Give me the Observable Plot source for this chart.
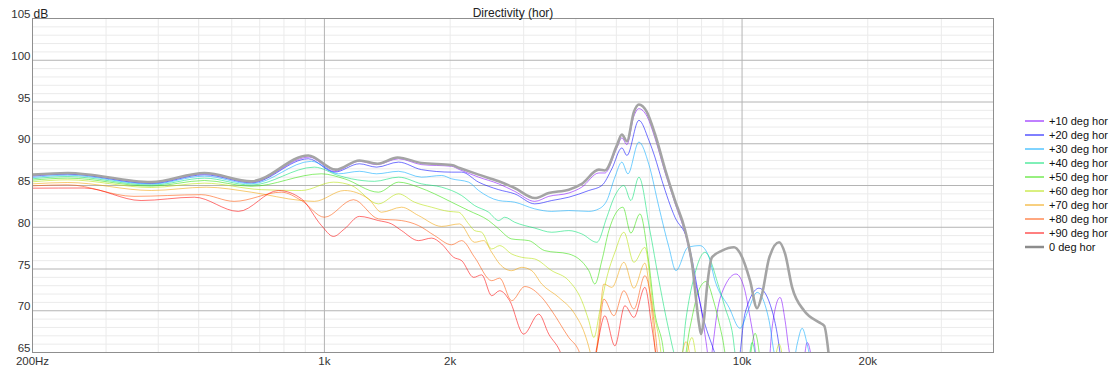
<!DOCTYPE html>
<html><head><meta charset="utf-8">
<script src="https://cdn.jsdelivr.net/npm/d3@7"></script>
<script src="https://cdn.jsdelivr.net/npm/@observablehq/plot@0.6"></script>
<style>
body{margin:0;background:#fff;}
#wrap{position:relative;width:1116px;height:369px;font-family:"Liberation Sans",Arial,sans-serif;}
#wrap svg{display:block;}
#legend{position:absolute;left:0;top:0;}
</style></head><body><div id="wrap"></div>
<script>
// ---- data ----
const seriesNames = ["+10 deg hor","+20 deg hor","+30 deg hor","+40 deg hor","+50 deg hor","+60 deg hor","+70 deg hor","+80 deg hor","+90 deg hor","0 deg hor"];
const seriesColors = ["#8000ff","#0000ff","#00a8ff","#00e070","#30e000","#b4e000","#f0a000","#ff5000","#ff0000","#8c8c8c"];

const f10 = [200,243,385,516,668,920,1057,1213,1333,1505,1708,2016,2107,2340,2614,2855,3189,3445,3847,4133,4540,4693,5015,5155,5300,5508,5662,5918,6185,6537,6908,7381,7714,8018,8197,8380,8520,8710,9104,9674,10110,10451,10684,10923,11544,11802,12335,12680,12963,13326,13928,14318,14800];
const db10 = [86.25,86.43,85.32,86.4,85.42,88.4,86.7,87.9,87.5,88.2,87.5,87.3,86.9,86.0,85.2,84.3,83.1,83.7,84.1,84.8,86.5,86.5,89.5,90.7,89.9,93.3,94.2,93.3,90.7,86.6,82.9,78.4,73.6,69.7,66.3,63.5,66.0,69.7,73.0,74.4,72.8,69.2,66.4,63,63,68,71.6,68.8,65.2,63,63,66.2,63];

const f20 = [200,243,385,516,668,915,1057,1213,1333,1505,1708,2016,2131,2340,2614,2855,3189,3502,3847,4296,4616,4878,5155,5300,5662,5984,6185,6429,6908,7381,8107,8567,8856,9727,10166,10984,11802,12132,12472];
const db20 = [86.12,86.35,85.24,86.28,85.32,88.2,86.6,87.6,87.2,87.8,86.9,86.6,86.6,85.4,84.5,84.0,82.8,83.2,83.6,84.4,85.0,87.0,89.5,88.6,92.8,90.4,88.4,85.6,81.2,78.7,68.8,65.2,63,63,69.7,72.7,70.0,67.3,63];

const f30 = [200,243,385,516,668,931,1080,1213,1333,1505,1708,1908,2016,2215,2340,2614,2855,3189,3502,3847,4296,4540,4745,4960,5155,5329,5662,5984,6324,6682,6946,7421,7930,8334,8615,9307,9890,10336,10863,11608,11933,12335,13180,13549,13928,14318,14718];
const db30 = [85.96,86.23,85.16,86.12,85.2,87.9,86.4,86.7,86.4,86.7,86.0,86.2,85.8,85.4,84.4,83.2,83.0,82.2,81.9,82.0,81.9,82.2,83.2,86.0,87.8,86.4,90.2,87.5,82.4,77.6,74.8,77.6,77.8,76.4,73.6,70.4,67.9,70.0,72.2,68.8,65.0,63,63,66,67.9,66,63];

const f40 = [200,243,385,516,668,946,1080,1161,1318,1505,1708,1908,2131,2289,2473,2614,2702,2855,3189,3502,3847,4133,4490,4745,4932,5212,5418,5662,6017,6324,6682,6908,7101,7340,7671,8152,8807,9104,9462,9781,10279,10567,10863];
const db40 = [85.8,86.07,85.04,85.88,85.05,87.2,86.2,85.8,85.5,86.0,85.2,84.8,83.8,82.6,81.8,80.8,81.2,80.6,79.9,79.4,79.6,79.2,78.2,81.2,83.5,85.0,83.2,86.0,79.6,73.6,67.6,64.5,63,69,74,77.0,72.8,70.4,67.6,63,63,66.2,63];

const f50 = [200,243,385,516,668,984,1117,1347,1505,1680,1836,2016,2215,2473,2614,2808,3085,3370,3847,4296,4441,4616,4798,5184,5418,5694,5984,6185,6429,6609,7180,7504,7886,8197,8567,8954,9307,10279,10744,11106];
const db50 = [85.64,85.88,84.92,85.6,84.9,86.4,85.8,84.2,85.4,84.8,84.0,83.0,82.0,80.8,79.8,78.6,78.4,77.2,76.8,74.8,73.2,76.0,79.6,82.4,79.3,81.6,75.7,69.7,66.4,63,63,68,72.5,73.5,71,67,63,63,67.3,63];

const f60 = [200,243,385,516,706,881,1051,1161,1347,1505,1644,1806,1983,2096,2215,2289,2380,2515,2628,2808,2968,3189,3502,3847,4133,4296,4417,4565,4745,4960,5212,5508,5853,6151,6324,6500,7180,7587,7886,11802,12267,12610];
const db60 = [85.44,85.68,84.76,85.28,84.5,84.4,85.4,85.0,82.8,84.0,83.0,82.4,81.9,81.8,80.4,79.6,79.4,77.4,77.8,76.8,76.4,76.2,74.8,73.6,71.2,68.8,66.8,70,74,77,79.4,75.8,77.6,69.7,66.8,63,63,66.8,63,63,66,63];

const f70 = [200,243,385,521,668,881,946,1117,1275,1370,1530,1680,1908,2107,2289,2406,2515,2628,2808,2968,3136,3314,3640,3977,4203,4320,4417,4540,4667,4878,5212,5508,5853,6084,6289,7023,7340,7587];
const db70 = [85.2,85.36,84.4,84.8,84.2,83.2,83.1,84.4,83.4,81.8,82.4,81.4,80.1,80.4,78.2,78.4,77.0,75.6,74.8,75.2,74.8,73.2,71.6,69.6,67.2,65.2,63,68,73.2,72.8,75.8,72.7,75.7,69.7,63,63,66.3,63];

const f80 = [200,243,350,507,608,789,881,1000,1174,1347,1530,1680,1836,2016,2131,2289,2515,2628,2808,3017,3314,3502,3847,4066,4203,4368,4515,4667,4932,5212,5508,5853,6151,6324];
const db80 = [84.96,85.08,83.7,83.9,83.1,84.2,83.2,81.2,83.3,81.0,80.8,80.2,79.0,77.9,78.4,76.4,73.6,73.9,71.2,72.9,71.6,70.0,66.8,65.2,63,63,66,71.4,69.4,72.4,70.2,74.2,68.8,63];

const f90 = [200,266,364,488,622,776,881,984,1051,1117,1213,1347,1448,1530,1680,1806,1908,2039,2131,2277,2380,2515,2628,2777,3001,3260,3445,3661,3805,4368,4490,4693,4960,5241,5508,5853,6084,6289];
const db90 = [84.68,84.7,83.2,83.6,81.9,84.4,83.4,80.2,78.9,79.8,81.3,80.8,80.4,79.6,78.4,78.7,78.0,76.4,76.0,74.0,74.3,71.8,72.4,71.2,67.2,69.6,67.2,65.2,63,63,65.6,69.4,65.8,70.6,69.2,72.8,68,63];

const f0 = [200,243,385,516,668,915,1063,1213,1340,1497,1708,2016,2107,2340,2614,2855,3189,3445,3847,4133,4540,4693,5015,5155,5300,5508,5662,5918,6185,6537,6908,7300,7587,7886,7974,8107,8242,8473,8954,9568,9890,10451,10863,11167,11608,12267,12680,13180,14083,15299,15728,16258];
const db0 = [86.3,86.5,85.4,86.5,85.5,88.6,86.9,88.0,87.6,88.35,87.7,87.45,87.1,86.3,85.5,84.7,83.5,84.1,84.5,85.2,86.9,86.8,89.8,91.1,90.3,93.8,94.7,93.8,91.2,87.0,83.2,79.7,75.7,68.5,67.2,69.0,72.8,76.4,77.2,77.6,76.9,73.6,70.3,72.0,76.3,78.2,76.8,72.8,70.0,68.6,68.2,63];

const xTicks = [200,500,1000,2000,5000,10000,20000];
const xTickLabels = ["200Hz","500","1k","2k","5k","10k","20k"];
const xMajor = [1000,10000];
const xMinor = [300,400,500,600,700,800,900,2000,3000,4000,5000,6000,7000,8000,9000,20000,30000,40000];
const yTicks = [65,70,75,80,85,90,95,100,105];
const yMajor = [70,75,80,85,90,95,100];
const yMinor = d3.range(66,105).filter(v => v % 5 !== 0);

// ---- build table ----
const freqs = [f10,f20,f30,f40,f50,f60,f70,f80,f90,f0];
const dbs = [db10,db20,db30,db40,db50,db60,db70,db80,db90,db0];
const rows = [];
freqs.forEach((fs, s) => fs.forEach((f, i) => rows.push({s, name: seriesNames[s], color: seriesColors[s], f, db: dbs[s][i]})));
const colored = rows.filter(r => r.s < 9);
const onAxis = rows.filter(r => r.s === 9);
const labelFor = new Map(xTicks.map((t, i) => [t, xTickLabels[i]]));

const font = '"Liberation Sans", Arial, sans-serif';
const chart = Plot.plot({
  width: 1116, height: 369,
  marginLeft: 32, marginRight: 123, marginTop: 18, marginBottom: 17,
  x: {type: "log", domain: [200, 40000], label: null},
  y: {domain: [65, 105], label: null},
  color: {type: "identity"},
  style: {fontFamily: font, fontSize: "12px", color: "#333", background: "#fff", overflow: "visible"},
  marks: [
    Plot.ruleX(xMinor, {stroke: "#ebebeb"}),
    Plot.ruleY(yMinor, {stroke: "#ebebeb"}),
    Plot.ruleX(xMajor, {stroke: "#b4b4b4"}),
    Plot.ruleY(yMajor, {stroke: "#b4b4b4"}),
    Plot.line(colored, {x: "f", y: "db", z: "name", stroke: "color", strokeWidth: 1, strokeOpacity: 0.55, curve: "monotone-x", clip: true}),
    Plot.line(onAxis, {x: "f", y: "db", stroke: "#a4a4a4", strokeWidth: 2.6, curve: "monotone-x", clip: true}),
    Plot.frame({stroke: "#8f8f8f"}),
    Plot.axisX({ticks: xTicks, tickFormat: d => labelFor.get(d), tickSize: 0, tickPadding: 4, fill: "#333", label: null, fontSize: 11.5}),
    Plot.axisY({ticks: yTicks, tickSize: 0, tickPadding: 2, dy: -4, fill: "#333", label: null, fontSize: 11.5}),
    Plot.text(["Directivity (hor)"], {frameAnchor: "top", dy: -10, fontSize: 12, fill: "#222"}),
    Plot.text(["dB"], {frameAnchor: "top-left", dx: 1, dy: -9, textAnchor: "start", fontSize: 12, fill: "#222"})
  ]
});
const wrap = document.getElementById("wrap");
wrap.appendChild(chart);

// ---- legend ----
const leg = d3.select(wrap).append("svg").attr("id", "legend").attr("width", 1116).attr("height", 369);
const items = leg.selectAll("g").data(seriesNames).join("g")
  .attr("transform", (d, i) => `translate(0,${121 + i * 14})`);
items.append("line").attr("x1", 1025).attr("x2", 1044).attr("y1", 0).attr("y2", 0)
  .attr("stroke", (d, i) => seriesColors[i]).attr("stroke-width", (d, i) => i === 9 ? 2.5 : 1);
items.append("text").attr("x", 1049).attr("y", 0).attr("dy", "0.35em")
  .attr("font-family", font).attr("font-size", 11).attr("fill", "#111").text(d => d);
</script></body></html>
